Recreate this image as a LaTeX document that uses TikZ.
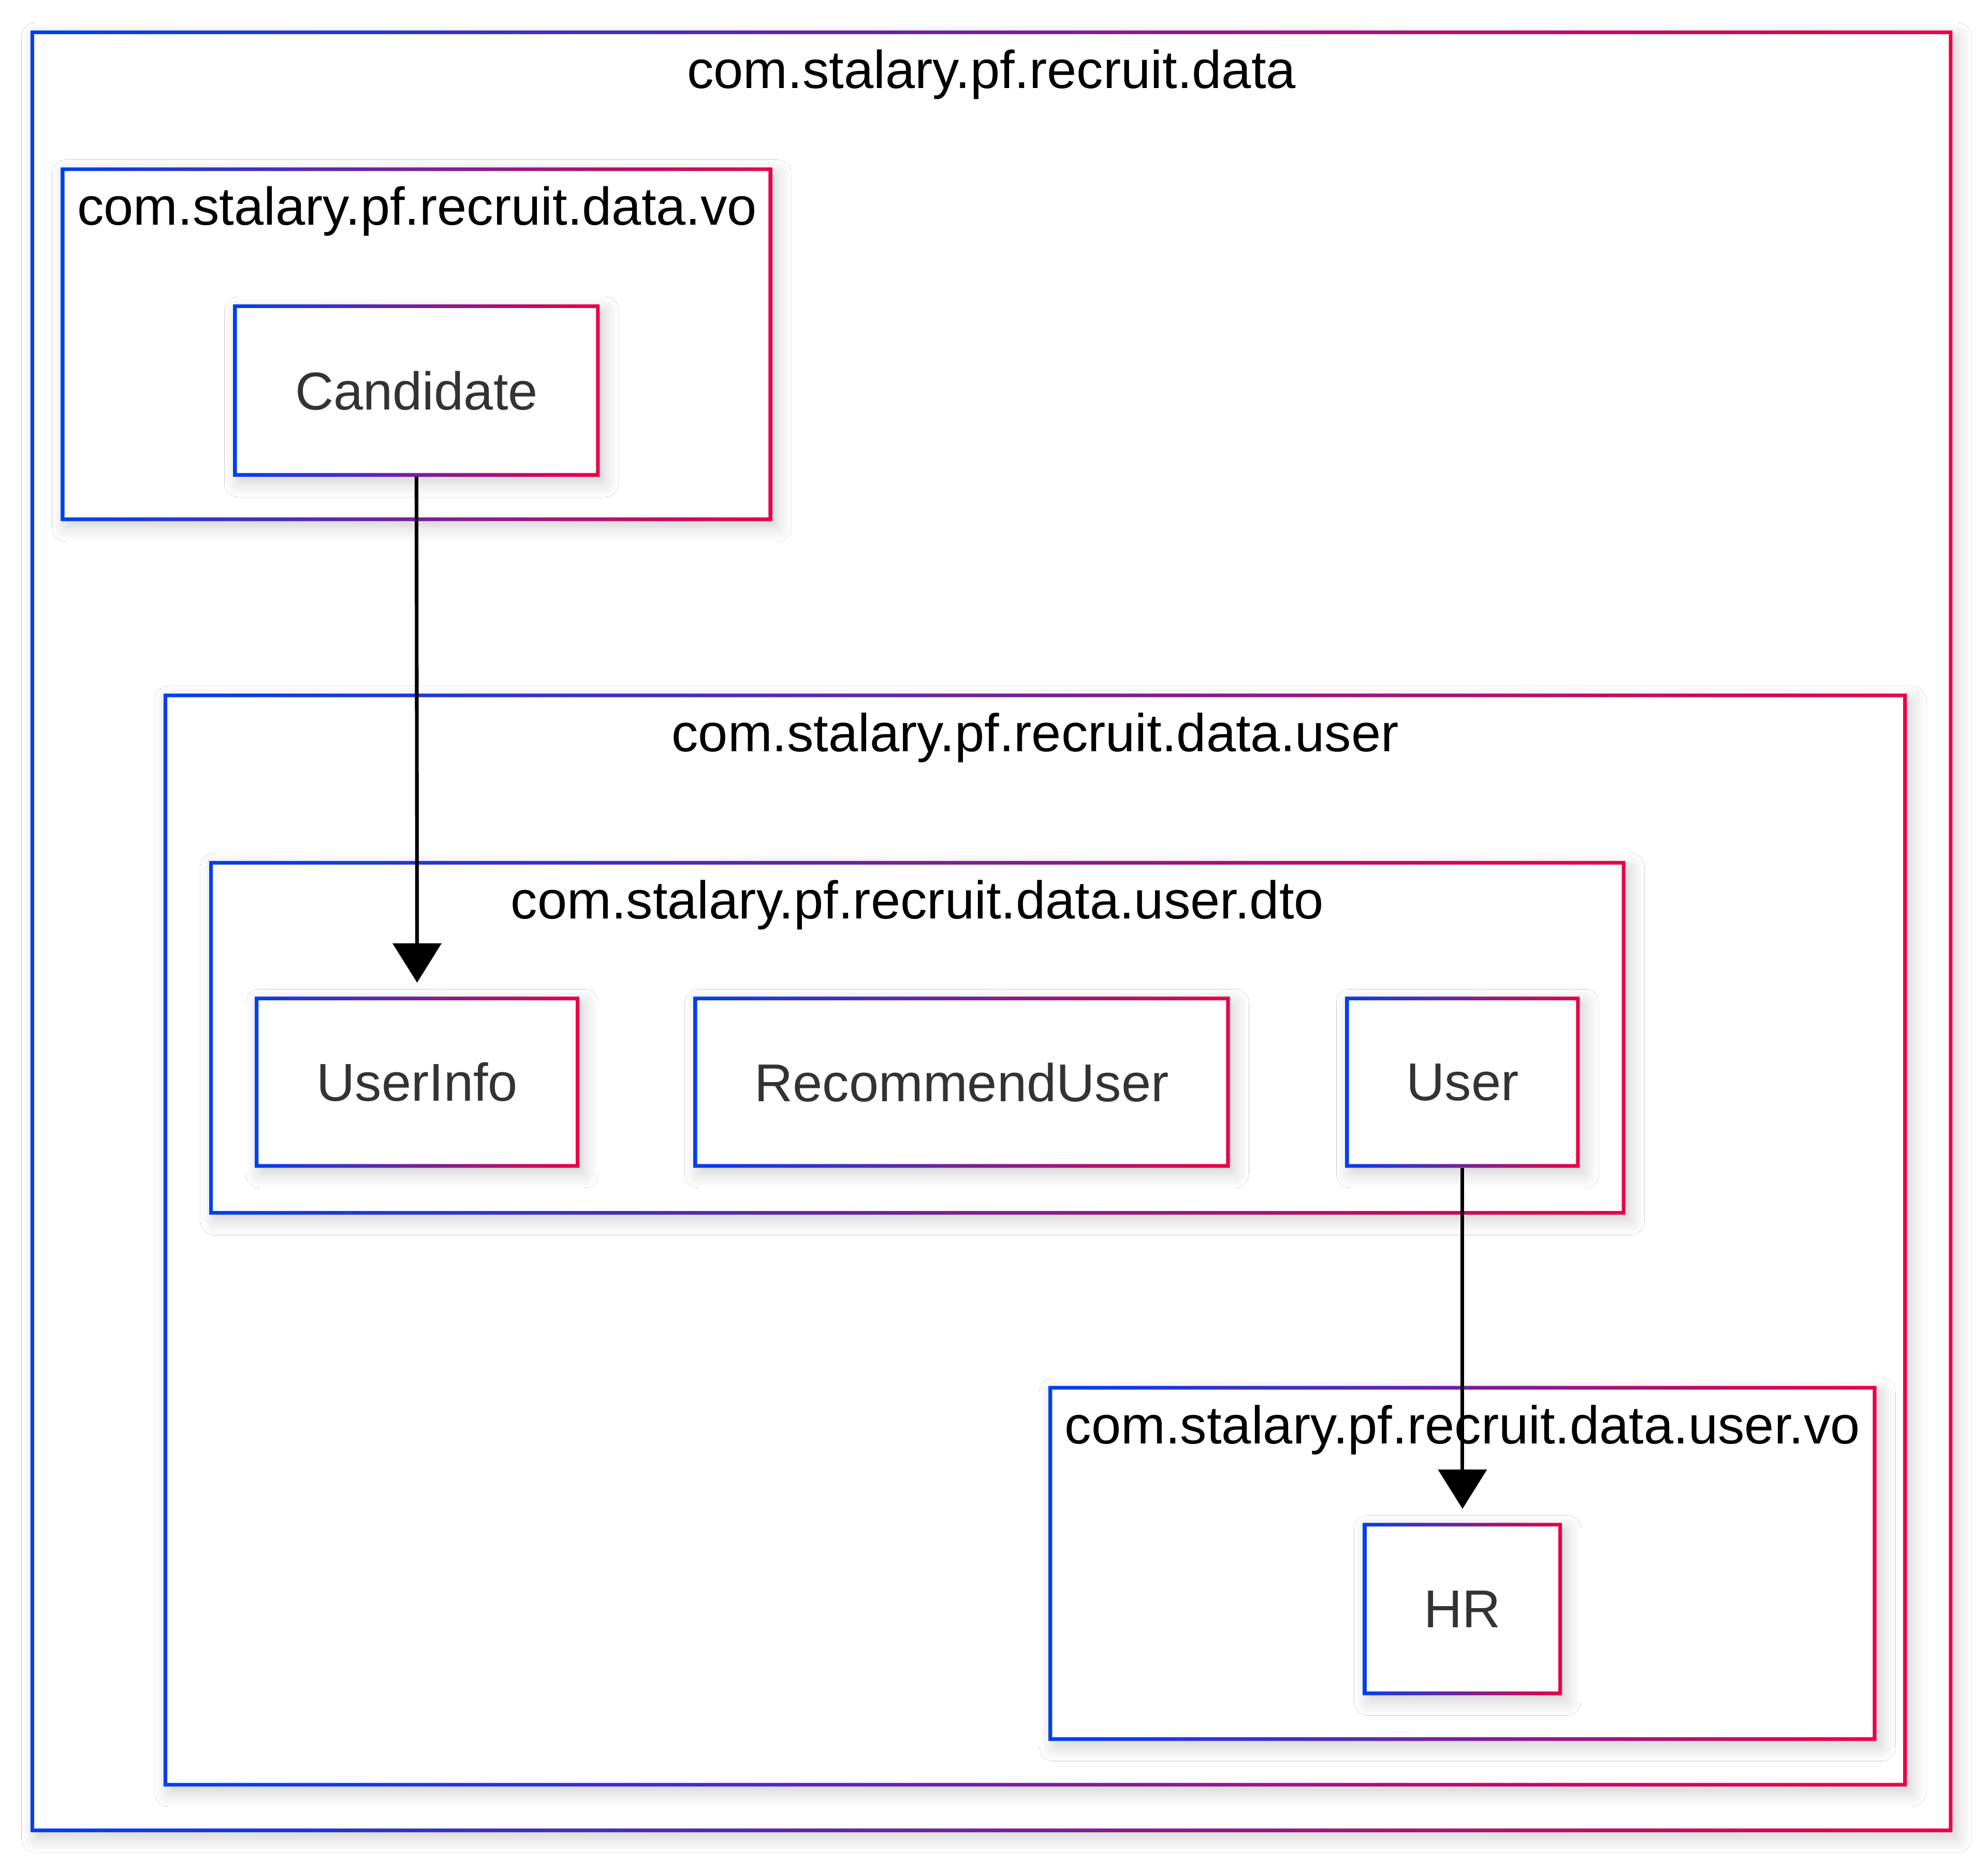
\documentclass[tikz,border=0pt]{standalone}
\usepackage{fontspec}
\setmainfont{Liberation Sans}
\usetikzlibrary{arrows.meta,shadows.blur}
\definecolor{gb}{HTML}{0040F0}
\definecolor{gr}{HTML}{EB0045}
\definecolor{txt}{HTML}{333333}
\newcommand\gradframe[1]{%
  \shade[left color=gb,right color=gr,even odd rule]
    (#1.north west) rectangle (#1.south east)
    ([xshift=2.9pt,yshift=-2.9pt]#1.north west) rectangle ([xshift=-2.9pt,yshift=2.9pt]#1.south east);}
\tikzset{
  boxbase/.style={rectangle, fill=white, inner sep=0pt, outer sep=0pt,
    blur shadow={shadow xshift=4pt, shadow yshift=-5pt, shadow blur radius=11pt, shadow blur steps=12, shadow opacity=18}},
  cls/.style={boxbase, text=txt, font=\fontsize{42}{50}\selectfont},
  clu/.style={boxbase},
  ttl/.style={anchor=base, inner sep=0pt, text=black, font=\fontsize{42}{50}\selectfont},
  dep/.style={line width=2.9pt, -{Triangle[width=38pt,length=31pt]}, shorten >=11pt}
}
\begin{document}
\begin{tikzpicture}[x=1pt,y=-1pt]
\useasboundingbox[fill=white] (0,0) rectangle (1568,1473);
% outer cluster
\node[clu, minimum width=1516pt, minimum height=1421pt] (outer) at (782,734.5) {};
\gradframe{outer}
\node[ttl] (outerT) at (782,69.5) {com.stalary.pf.recruit.data};
% vo cluster
\node[clu, minimum width=561pt, minimum height=279pt] (vo) at (328.5,271.5) {};
\gradframe{vo}
\node[ttl] (voT) at (329,177.5) {com.stalary.pf.recruit.data.vo};
\node[cls, minimum width=289pt, minimum height=136pt] (cand) at (328.5,308) {Candidate};
\gradframe{cand}
% user cluster
\node[clu, minimum width=1375pt, minimum height=862pt] (user) at (816.5,978) {};
\gradframe{user}
\node[ttl] (userT) at (816.5,592.5) {com.stalary.pf.recruit.data.user};
% dto cluster
\node[clu, minimum width=1117pt, minimum height=279pt] (dto) at (723.5,818.5) {};
\gradframe{dto}
\node[ttl] (dtoT) at (723.5,724.5) {com.stalary.pf.recruit.data.user.dto};
\node[cls, minimum width=256pt, minimum height=135pt] (uinfo) at (329,853.5) {UserInfo};
\gradframe{uinfo}
\node[cls, minimum width=423pt, minimum height=135pt] (rec) at (758.5,853.5) {RecommendUser};
\gradframe{rec}
\node[cls, minimum width=185pt, minimum height=135pt] (usr) at (1153.5,853.5) {User};
\gradframe{usr}
% user.vo cluster
\node[clu, minimum width=653pt, minimum height=280pt] (uvo) at (1153.5,1233) {};
\gradframe{uvo}
\node[ttl] (uvoT) at (1153.5,1138.5) {com.stalary.pf.recruit.data.user.vo};
\node[cls, minimum width=157pt, minimum height=136pt] (hr) at (1153.5,1269) {HR};
\gradframe{hr}
% dependencies
\draw[dep] (cand.south) -- (uinfo.north);
\draw[dep] (usr.south) -- (hr.north);
\end{tikzpicture}
\end{document}
